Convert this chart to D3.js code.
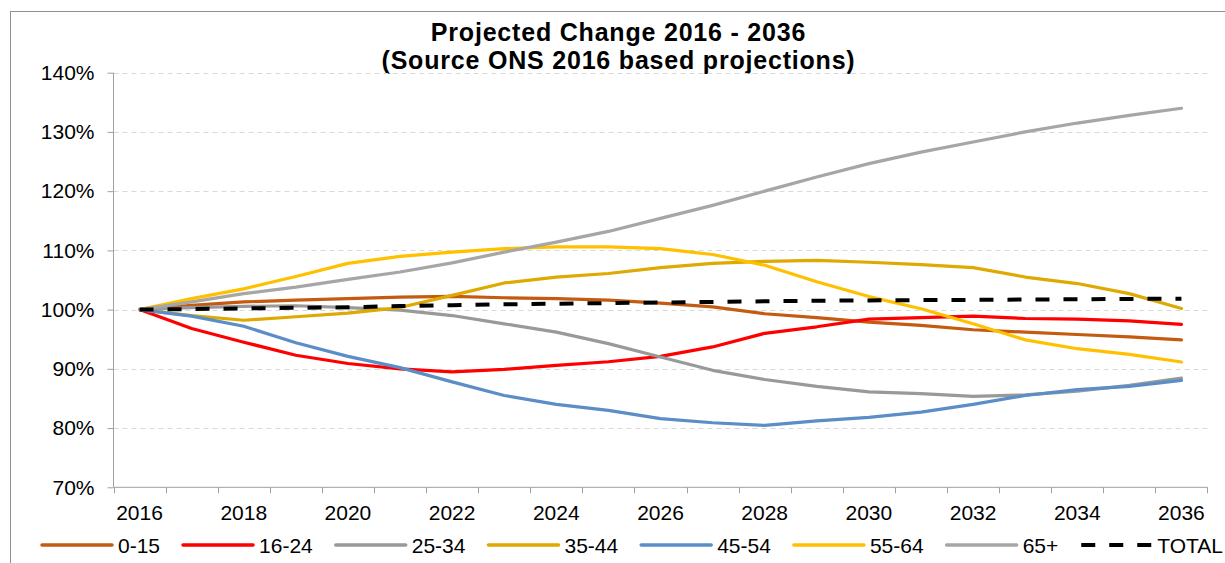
<!DOCTYPE html>
<html>
<head>
<meta charset="utf-8">
<script src="https://cdn.jsdelivr.net/npm/d3@7"></script>
<style>
  html, body { margin: 0; padding: 0; background: #fff; overflow: hidden; }
  text { font-family: "Liberation Sans", Arial, sans-serif; fill: #000; }
</style>
</head>
<body>
<svg id="chart" width="1225" height="563"></svg>
<script>
// data (percent of 2016 level)
const years = d3.range(2016, 2037);
const yearLabels = years.filter(y => y % 2 === 0);
const yTicks = [70, 80, 90, 100, 110, 120, 130, 140];

const seriesNames = ['0-15', '16-24', '25-34', '35-44', '45-54', '55-64', '65+', 'TOTAL'];
const seriesColors = ['#C55A11', '#FF0000', '#999999', '#DEA900', '#5B8DC6', '#FFC000', '#A6A6A6', '#000000'];

const age0_15  = [100, 100.7, 101.3, 101.6, 101.85, 102.1, 102.25, 102.0, 101.85, 101.6, 101.1, 100.45, 99.3, 98.65, 97.9, 97.35, 96.6, 96.2, 95.8, 95.4, 94.9];
const age16_24 = [100, 96.8, 94.5, 92.3, 90.9, 90.0, 89.5, 89.9, 90.6, 91.2, 92.1, 93.7, 96.0, 97.1, 98.4, 98.65, 98.9, 98.5, 98.4, 98.1, 97.5];
const age25_34 = [100, 100.35, 100.55, 100.65, 100.35, 99.9, 99.0, 97.6, 96.2, 94.25, 92.0, 89.75, 88.2, 87.05, 86.1, 85.8, 85.35, 85.6, 86.25, 87.2, 88.45];
const age35_44 = [100, 99.0, 98.2, 98.8, 99.4, 100.35, 102.4, 104.5, 105.5, 106.1, 107.1, 107.8, 108.15, 108.3, 108.0, 107.6, 107.1, 105.5, 104.4, 102.7, 100.2];
const age45_54 = [100, 98.9, 97.2, 94.4, 92.1, 90.2, 87.8, 85.5, 84.0, 83.0, 81.6, 80.9, 80.45, 81.2, 81.8, 82.7, 84.0, 85.5, 86.5, 87.05, 88.05];
const age55_64 = [100, 101.85, 103.5, 105.6, 107.8, 109.0, 109.7, 110.3, 110.6, 110.6, 110.3, 109.3, 107.5, 104.7, 102.2, 100.15, 97.6, 94.9, 93.4, 92.45, 91.15];
const age65up  = [100, 101.3, 102.7, 103.8, 105.1, 106.35, 107.9, 109.7, 111.4, 113.2, 115.4, 117.6, 120.0, 122.4, 124.65, 126.6, 128.3, 130.0, 131.5, 132.8, 134.0];
const total    = [100, 100.1, 100.2, 100.3, 100.4, 100.6, 100.75, 100.9, 101.0, 101.1, 101.2, 101.3, 101.4, 101.5, 101.55, 101.6, 101.65, 101.7, 101.75, 101.8, 101.85];

const seriesValues = [age0_15, age16_24, age25_34, age35_44, age45_54, age55_64, age65up, total];

const svg = d3.select('#chart');

// outer chart border (runs off the right and bottom edges)
svg.append('rect')
  .attr('x', 10.5).attr('y', 11.5)
  .attr('width', 1300).attr('height', 700)
  .attr('fill', 'none').attr('stroke', '#8f8f8f').attr('stroke-width', 1);

const plotLeft = 113.5, plotRight = 1207.5, plotTop = 72.7, plotBottom = 487.3;

const x = d3.scaleBand().domain(years).range([plotLeft, plotRight]).padding(0);
const y = d3.scaleLinear().domain([70, 140]).range([plotBottom, plotTop]);
const cx = d => x(d) + x.bandwidth() / 2;

// title, two lines
svg.append('text')
  .attr('x', 618.5).attr('y', 41).attr('text-anchor', 'middle')
  .style('font-size', '25px').style('font-weight', 'bold').style('letter-spacing', '0.8px')
  .text('Projected Change 2016 - 2036');
svg.append('text')
  .attr('x', 618.5).attr('y', 69).attr('text-anchor', 'middle')
  .style('font-size', '25px').style('font-weight', 'bold').style('letter-spacing', '0.8px')
  .text('(Source ONS 2016 based projections)');

// gridlines
svg.append('g')
  .selectAll('line')
  .data(yTicks.filter(t => t > 70))
  .enter()
  .append('line')
  .attr('x1', plotLeft).attr('x2', plotRight)
  .attr('y1', d => Math.round(y(d)) + 0.5).attr('y2', d => Math.round(y(d)) + 0.5)
  .attr('stroke', '#d9d9d9').attr('stroke-width', 1)
  .attr('stroke-dasharray', '5,4');

// y axis
const yAxis = d3.axisLeft(y)
  .tickValues(yTicks)
  .tickSize(6)
  .tickPadding(13)
  .tickFormat(d => d + '%');
const gy = svg.append('g').attr('transform', `translate(${plotLeft},0)`).call(yAxis);
gy.select('.domain').remove();
gy.selectAll('.tick line').attr('stroke', '#a0a0a0');
gy.selectAll('.tick text').style('font-size', '21px').style('font-family', '"Liberation Sans", Arial, sans-serif');
gy.append('line')
  .attr('x1', 0).attr('x2', 0).attr('y1', plotTop).attr('y2', plotBottom)
  .attr('stroke', '#a0a0a0');

// x axis: ticks between categories, labels every second year
const gx = svg.append('g');
gx.append('line')
  .attr('x1', plotLeft).attr('x2', plotRight)
  .attr('y1', plotBottom).attr('y2', plotBottom)
  .attr('stroke', '#a0a0a0');
gx.selectAll('.xt')
  .data(years.concat(['end']))
  .enter()
  .append('line')
  .attr('class', 'xt')
  .attr('x1', d => d === 'end' ? plotRight : Math.round(x(d)) + 0.5)
  .attr('x2', d => d === 'end' ? plotRight : Math.round(x(d)) + 0.5)
  .attr('y1', plotBottom).attr('y2', plotBottom + 6)
  .attr('stroke', '#a0a0a0');
gx.selectAll('.xl')
  .data(yearLabels)
  .enter()
  .append('text')
  .attr('class', 'xl')
  .attr('x', d => cx(d))
  .attr('y', 520)
  .attr('text-anchor', 'middle')
  .style('font-size', '21px')
  .text(d => d);

// series lines
const line = d3.line()
  .x((d, i) => cx(years[i]))
  .y(d => y(d));

svg.append('g')
  .selectAll('path')
  .data(seriesValues)
  .enter()
  .append('path')
  .attr('d', d => line(d))
  .attr('fill', 'none')
  .attr('stroke', (d, i) => seriesColors[i])
  .attr('stroke-width', (d, i) => seriesNames[i] === 'TOTAL' ? 4 : 3.2)
  .attr('stroke-linecap', (d, i) => seriesNames[i] === 'TOTAL' ? 'butt' : 'round')
  .attr('stroke-linejoin', 'round')
  .attr('stroke-dasharray', (d, i) => seriesNames[i] === 'TOTAL' ? '14,14' : null);

// legend
const legend = svg.append('g');
let lx = 42;
const ly = 545;
seriesNames.forEach((name, i) => {
  const isTotal = name === 'TOTAL';
  legend.append('line')
    .attr('x1', lx).attr('x2', lx + 70)
    .attr('y1', ly).attr('y2', ly)
    .attr('stroke', seriesColors[i])
    .attr('stroke-width', isTotal ? 4 : 3.5)
    .attr('stroke-linecap', isTotal ? 'butt' : 'round')
    .attr('stroke-dasharray', isTotal ? '14,14' : null);
  const t = legend.append('text')
    .attr('x', lx + 76).attr('y', ly + 7.5)
    .style('font-size', '21px')
    .text(name);
  lx += 76 + t.node().getComputedTextLength() + 23;
});
</script>
</body>
</html>
